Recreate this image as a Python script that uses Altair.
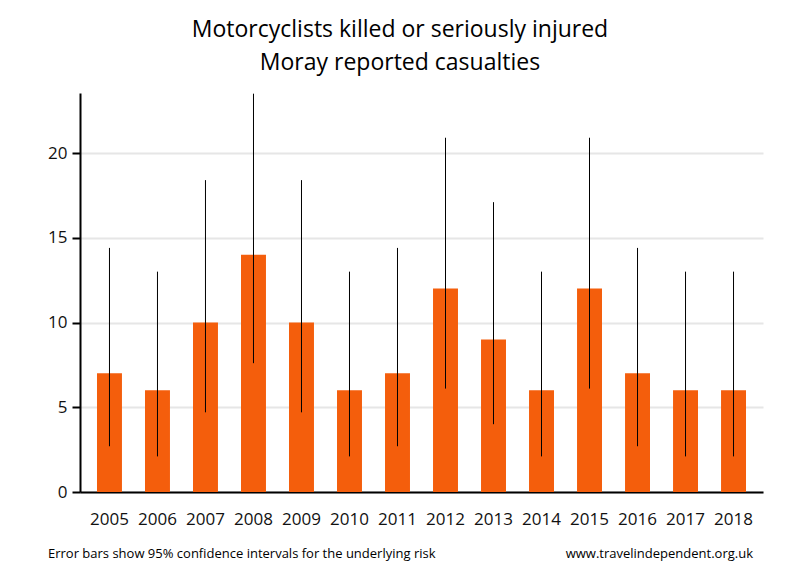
import altair as alt
import pandas as pd

years = ["2005", "2006", "2007", "2008", "2009", "2010", "2011",
         "2012", "2013", "2014", "2015", "2016", "2017", "2018"]
casualties = [7, 6, 10, 14, 10, 6, 7, 12, 9, 6, 12, 7, 6, 6]
ci_low = [2.7, 2.1, 4.7, 7.6, 4.7, 2.1, 2.7, 6.1, 4.0, 2.1, 6.1, 2.7, 2.1, 2.1]
ci_high = [14.4, 13.0, 18.4, 23.5, 18.4, 13.0, 14.4, 20.9, 17.1, 13.0, 20.9, 14.4, 13.0, 13.0]
y_ticks = [0, 5, 10, 15, 20]

title_lines = ["Motorcyclists killed or seriously injured", "Moray reported casualties"]
footer_left = "Error bars show 95% confidence intervals for the underlying risk"
footer_right = "www.travelindependent.org.uk"

FONT = "Open Sans"
W, H = 683, 399

df = pd.DataFrame({"year": years, "value": casualties, "lo": ci_low, "hi": ci_high})

x_enc = alt.X("year:N", sort=years,
              scale=alt.Scale(paddingInner=0.48, paddingOuter=0.354),
              axis=alt.Axis(title=None, labelAngle=0, ticks=False, domainColor="black",
                            domainWidth=2, labelFont=FONT, labelFontSize=17,
                            labelColor="#111111", labelBaseline="top", labelPadding=19,
                            grid=False))
y_scale = alt.Scale(domain=[0, 23.54], nice=False, zero=True)

bars = alt.Chart(df).mark_bar(color="#f45e0c").encode(
    x=x_enc,
    y=alt.Y("value:Q", scale=y_scale,
            axis=alt.Axis(title=None, values=y_ticks, domainColor="black", domainWidth=2,
                          tickColor="black", tickWidth=2, tickSize=8,
                          labelFont=FONT, labelFontSize=17, labelColor="#111111",
                          labelPadding=5, gridColor="#e6e6e6", gridWidth=2)),
)

errs = alt.Chart(df).mark_rule(color="black", strokeWidth=1).encode(
    x=alt.X("year:N", sort=years),
    y=alt.Y("lo:Q", scale=y_scale),
    y2="hi:Q",
)

def label(text, x, y, size, align="center"):
    return alt.Chart(pd.DataFrame({"t": [text]})).mark_text(
        font=FONT, fontSize=size, color="black", align=align, baseline="alphabetic"
    ).encode(text="t:N", x=alt.value(x), y=alt.value(y))

t1 = label(title_lines[0], 400 - 80, 37 - 93, 23)
t2 = label(title_lines[1], 400 - 80, 70 - 93, 23)
f1 = label(footer_left, 48 - 80, 558 - 93, 13, align="left")
f2 = label(footer_right, 753 - 80, 558 - 93, 13, align="right")

chart = alt.layer(bars, errs, t1, t2, f1, f2).properties(
    width=W, height=H,
    autosize=alt.AutoSizeParams(type="none"),
    padding={"left": 72, "top": 85, "right": 29, "bottom": 70},
).configure_view(stroke=None)

chart.save("out.html", embed_options={"renderer": "svg", "actions": False})
